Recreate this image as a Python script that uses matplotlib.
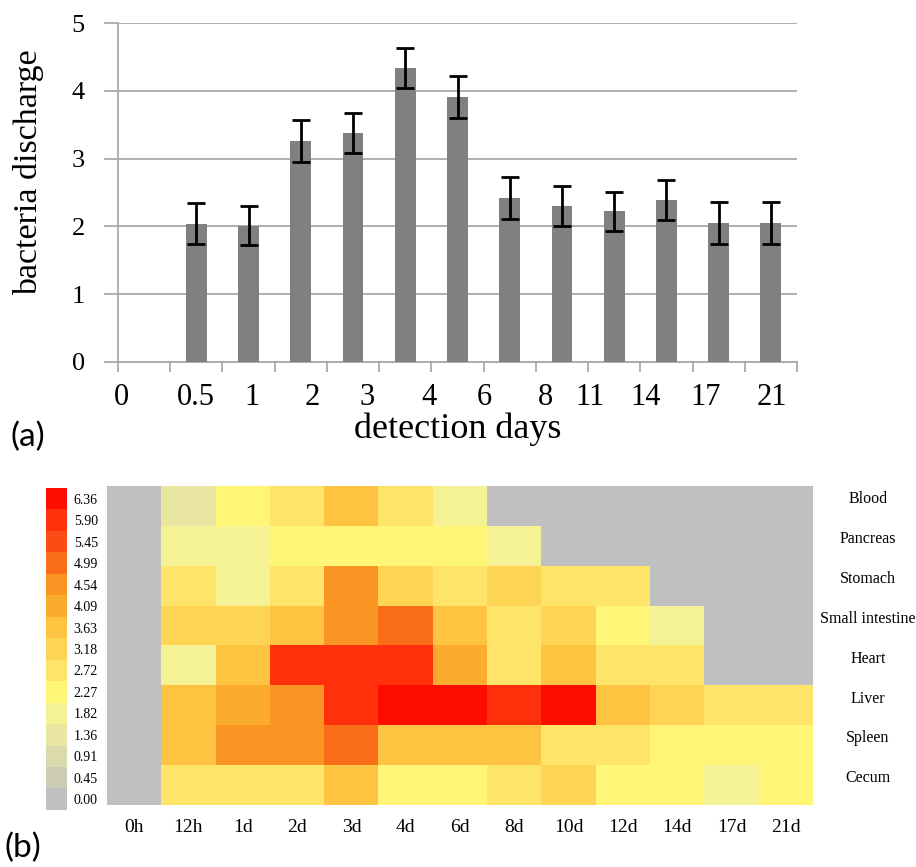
import numpy as np
import matplotlib
matplotlib.use("Agg")
import matplotlib.pyplot as plt
from matplotlib.colors import ListedColormap, BoundaryNorm

plt.rcParams['font.family'] = ['Liberation Serif', 'DejaVu Serif']

# (a) bacteria discharge per detection day
day_labels = ["0", "0.5", "1", "2", "3", "4", "6", "8", "11", "14", "17", "21"]
discharge = [2.04, 2.01, 3.26, 3.38, 4.34, 3.91, 2.42, 2.30, 2.22, 2.39, 2.05, 2.05]
discharge_err = [0.30, 0.29, 0.31, 0.30, 0.30, 0.31, 0.31, 0.30, 0.29, 0.30, 0.31, 0.31]

# (b) heatmap
times = ["0h", "12h", "1d", "2d", "3d", "4d", "6d", "8d", "10d", "12d", "14d", "17d", "21d"]
organs = ["Blood", "Pancreas", "Stomach", "Small intestine", "Heart", "Liver", "Spleen", "Cecum"]
blood = [0, 1.36, 2.27, 2.72, 3.63, 2.72, 1.82, 0, 0, 0, 0, 0, 0]
pancreas = [0, 1.82, 1.82, 2.27, 2.27, 2.27, 2.27, 1.82, 0, 0, 0, 0, 0]
stomach = [0, 2.72, 1.82, 2.72, 4.54, 3.18, 2.72, 3.18, 2.72, 2.72, 0, 0, 0]
small_int = [0, 3.18, 3.18, 3.63, 4.54, 4.99, 3.63, 2.72, 3.18, 2.27, 1.82, 0, 0]
heart = [0, 1.82, 3.63, 5.90, 5.90, 5.90, 4.09, 2.72, 3.63, 2.72, 2.72, 0, 0]
liver = [0, 3.63, 4.09, 4.54, 5.90, 6.36, 6.36, 5.90, 6.36, 3.63, 3.18, 2.72, 2.72]
spleen = [0, 3.63, 4.54, 4.54, 4.99, 3.63, 3.63, 3.63, 2.72, 2.72, 2.27, 2.27, 2.27]
cecum = [0, 2.72, 2.72, 2.72, 3.63, 2.27, 2.27, 2.72, 3.18, 2.27, 2.27, 1.82, 2.27]

levels = [0.00, 0.45, 0.91, 1.36, 1.82, 2.27, 2.72, 3.18, 3.63, 4.09, 4.54, 4.99, 5.45, 5.90, 6.36]
level_colors = ["#c0c0c0", "#cdcdb6", "#dadaac", "#e8e6a0", "#f5f296", "#fff678", "#fee469",
                "#fed455", "#fdc341", "#fcac2d", "#fa9423", "#fa6e19", "#fc4b14", "#ff300a", "#ff0c00"]

grid_col = "#a9a9a9"

fig = plt.figure(figsize=(9.16, 8.67), dpi=100)

# ---- (a) bar chart
ax = fig.add_axes([118/916, 1-361.7/867, 679/916, 338.4/867])
xs = np.arange(1, len(discharge) + 1)
ax.bar(xs, discharge, width=0.4, color="#808080", zorder=3)
ax.errorbar(xs, discharge, yerr=discharge_err, fmt="none", ecolor="black",
            elinewidth=2, capsize=6.5, capthick=2, zorder=4)
ax.set_xlim(-0.5, 12.5)
ax.set_ylim(0, 5)
ax.set_yticks(range(6))
ax.yaxis.grid(True, color=grid_col, lw=1.3, zorder=0)
for s in ["top", "right"]:
    ax.spines[s].set_visible(False)
for s in ["left", "bottom"]:
    ax.spines[s].set_color(grid_col)
    ax.spines[s].set_linewidth(1.3)
ax.set_xticks(np.arange(-0.5, 13, 1))
ax.set_xticklabels([])
# labels sit loosely under the bars, as in the original figure
label_pos = [-0.44, 0.99, 2.07, 3.22, 4.27, 5.46, 6.51, 7.68, 8.53, 9.61, 10.76, 12.01]
ax.set_xticks(label_pos, day_labels, minor=True)
ax.tick_params(axis="x", which="major", length=7, width=1.3, color=grid_col, direction="out")
ax.tick_params(axis="x", which="minor", length=0, pad=15, labelsize=22)
ax.tick_params(axis="y", length=10, width=1.3, color=grid_col, pad=14, labelsize=19)
ax.set_xlabel("detection days", fontsize=26, labelpad=1)
ax.set_ylabel("bacteria discharge", fontsize=24.5, labelpad=20, y=0.56)
fig.text(10/916, 1-437/867, "(a)", fontsize=24, family="Lato", va="center", ha="left")

# ---- (b) heatmap
cmap = ListedColormap(level_colors)
lv = np.array(levels)
bounds = np.concatenate([[-0.5], (lv[:-1] + lv[1:]) / 2, [7.0]])
norm = BoundaryNorm(bounds, cmap.N)

hm = np.array([blood, pancreas, stomach, small_int, heart, liver, spleen, cecum])
hx = fig.add_axes([107/916, 1-805/867, 706/916, 319/867])
hx.imshow(hm, cmap=cmap, norm=norm, aspect="auto", interpolation="nearest")
hx.set_xticks(range(len(times)), times)
hx.set_yticks([])
hx.tick_params(axis="x", length=0, pad=10, labelsize=14)
for s in hx.spines.values():
    s.set_visible(False)
for i, name in enumerate(organs):
    hx.text(13.51, i - 0.17, name, ha="center", va="center", fontsize=11.5)

cx = fig.add_axes([45.7/916, 1-810/867, 21/916, 322/867])
cx.imshow(lv[::-1, None], cmap=cmap, norm=norm, aspect="auto", interpolation="nearest",
          extent=[0, 1, -0.5, len(levels) - 0.5])
cx.set_xticks([])
cx.set_yticks(range(len(levels)), ["%.2f" % v for v in levels])
cx.yaxis.tick_right()
cx.tick_params(axis="y", length=0, pad=5, labelsize=10)
for s in cx.spines.values():
    s.set_visible(False)
fig.text(5/916, 1-848/867, "(b)", fontsize=24, family="Lato", va="center", ha="left")

fig.savefig("out.png", dpi=100)
